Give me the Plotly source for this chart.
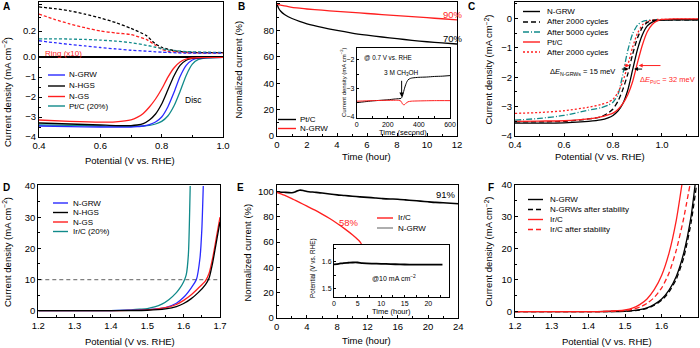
import plotly.graph_objects as go

W, H = 700, 348
FONT = "Liberation Sans, Arial, Helvetica, sans-serif"
BLUE = "#2a2aff"
BLACK = "#000000"
RED = "#ff1f1f"
TEAL = "#108a8a"
GRAY = "#8c8c8c"

# ---------------- Panel A data ----------------
a_ring_x = [0.40, 0.45, 0.50, 0.55, 0.60, 0.65, 0.70, 0.75, 0.78, 0.80, 0.82, 0.85, 0.88, 0.90, 0.95, 1.00]
a_ring_nhgs = [0.385, 0.372, 0.355, 0.33, 0.30, 0.265, 0.22, 0.165, 0.10, 0.075, 0.06, 0.045, 0.038, 0.035, 0.034, 0.033]
a_ring_ngs = [0.33, 0.29, 0.255, 0.225, 0.20, 0.185, 0.172, 0.135, 0.09, 0.06, 0.045, 0.038, 0.033, 0.032, 0.03, 0.03]
a_ring_ptc = [0.14, 0.14, 0.138, 0.135, 0.13, 0.122, 0.11, 0.09, 0.075, 0.065, 0.055, 0.048, 0.042, 0.04, 0.037, 0.035]
a_ring_ngrw = [0.125, 0.11, 0.097, 0.085, 0.073, 0.062, 0.052, 0.045, 0.04, 0.037, 0.035, 0.032, 0.03, 0.03, 0.03, 0.03]

a_disc_x = [0.40, 0.50, 0.60, 0.65, 0.70, 0.72, 0.74, 0.76, 0.78, 0.80, 0.82, 0.84, 0.86, 0.88, 0.90, 0.92, 0.95, 1.00]
a_disc_ngs = [-3.15, -3.22, -3.26, -3.24, -3.14, -3.02, -2.82, -2.5, -2.1, -1.6, -1.02, -0.55, -0.25, -0.1, -0.05, -0.03, -0.02, -0.02]
a_disc_nhgs = [-3.3, -3.35, -3.4, -3.43, -3.43, -3.4, -3.33, -3.15, -2.85, -2.35, -1.65, -0.95, -0.42, -0.16, -0.07, -0.04, -0.03, -0.02]
a_disc_ngrw = [-3.45, -3.48, -3.5, -3.5, -3.5, -3.48, -3.45, -3.38, -3.25, -3.0, -2.5, -1.78, -0.98, -0.42, -0.15, -0.06, -0.03, -0.02]
a_disc_ptc = [-3.4, -3.42, -3.45, -3.46, -3.47, -3.46, -3.45, -3.42, -3.35, -3.22, -2.95, -2.45, -1.72, -0.92, -0.36, -0.12, -0.04, -0.02]

# ---------------- Panel B data ----------------
b_t = [0, 0.1, 0.25, 0.5, 0.75, 1, 1.5, 2, 3, 4, 5, 6, 7, 8, 9, 10, 11, 12]
b_ptc = [100, 97, 94.5, 92, 90.3, 89, 86.8, 85, 82.3, 80, 78, 76.4, 75, 73.7, 72.5, 71.4, 70.5, 69.7]
b_ngrw = [100, 99.6, 99.2, 98.6, 98, 97.5, 96.8, 96.2, 95.3, 94.4, 93.6, 92.8, 92, 91.2, 90.4, 89.6, 88.8, 88]

bi_t_ptc = [0, 50, 100, 150, 200, 250, 285, 292, 300, 310, 320, 330, 345, 360, 400, 450, 500, 550, 600]
bi_ptc = [-3.5, -3.47, -3.44, -3.42, -3.4, -3.37, -3.35, -3.3, -3.15, -2.95, -2.8, -2.7, -2.65, -2.63, -2.61, -2.6, -2.58, -2.57, -2.55]
bi_t_ngrw = [0, 100, 200, 270, 285, 295, 305, 315, 330, 350, 400, 500, 600]
bi_ngrw = [-3.45, -3.43, -3.42, -3.42, -3.45, -3.55, -3.58, -3.53, -3.47, -3.45, -3.44, -3.43, -3.43]

# ---------------- Panel C data ----------------
c_x = [0.40, 0.50, 0.60, 0.70, 0.75, 0.78, 0.80, 0.82, 0.84, 0.86, 0.88, 0.90, 0.92, 0.94, 0.96, 0.98, 1.00, 1.05, 1.147]
c_ngrw = [-3.56, -3.56, -3.55, -3.5, -3.45, -3.38, -3.3, -3.15, -2.9, -2.45, -1.75, -1.05, -0.55, -0.25, -0.12, -0.07, -0.05, -0.04, -0.04]
c_ngrw_2000 = [-3.52, -3.52, -3.5, -3.42, -3.35, -3.22, -3.08, -2.82, -2.42, -1.9, -1.22, -0.66, -0.3, -0.13, -0.07, -0.05, -0.04, -0.04, -0.04]
c_ngrw_5000 = [-3.46, -3.4, -3.3, -3.12, -3.04, -2.95, -2.85, -2.6, -1.9, -1.1, -0.52, -0.22, -0.1, -0.06, -0.05, -0.04, -0.04, -0.04, -0.04]
c_ptc = [-3.5, -3.49, -3.48, -3.42, -3.35, -3.28, -3.22, -3.1, -2.9, -2.6, -2.15, -1.5, -0.9, -0.45, -0.2, -0.08, -0.03, -0.01, -0.01]
c_ptc_2000 = [-3.23, -3.2, -3.14, -3.02, -2.93, -2.85, -2.75, -2.52, -2.15, -1.6, -0.98, -0.5, -0.22, -0.1, -0.05, -0.03, -0.03, -0.02, -0.02]

# ---------------- Panel D data ----------------
d_ngrw_x = [1.2, 1.4, 1.45, 1.5, 1.55, 1.58, 1.60, 1.62, 1.635, 1.645, 1.65, 1.654]
d_ngrw_y = [0, 0.05, 0.15, 0.35, 1.0, 2.4, 4.3, 7.2, 10, 17, 26, 40]
d_nhgs_x = [1.2, 1.4, 1.45, 1.5, 1.55, 1.58, 1.6, 1.62, 1.64, 1.66, 1.67, 1.68, 1.69, 1.70]
d_nhgs_y = [0, 0.02, 0.05, 0.15, 0.6, 1.3, 2.3, 3.8, 5.8, 8.4, 10.5, 15.5, 22, 28.5]
d_ngs_x = [1.2, 1.4, 1.45, 1.5, 1.55, 1.58, 1.6, 1.62, 1.64, 1.66, 1.67, 1.68, 1.69, 1.70]
d_ngs_y = [0, 0.03, 0.1, 0.3, 1.0, 2.0, 3.3, 5.0, 7.2, 9.6, 12, 17, 23.5, 30]
d_irc_x = [1.2, 1.4, 1.45, 1.48, 1.5, 1.52, 1.54, 1.56, 1.58, 1.59, 1.60, 1.607, 1.613, 1.618]
d_irc_y = [0, 0.05, 0.25, 0.5, 0.7, 1.2, 2.1, 3.6, 5.8, 7.3, 9.3, 11.5, 18, 40]
d_ref_x = [1.2, 1.7]
d_ref_y = [10, 10]

# ---------------- Panel E data ----------------
e_t_ngrw = [0, 1, 2, 2.5, 3, 3.5, 4, 5, 6, 7, 8, 9, 10, 11, 12, 13, 14, 15, 16, 17, 18, 19, 20, 21, 22, 23, 24]
e_ngrw = [100, 99.5, 99.2, 100, 101.2, 101, 100.2, 99.6, 99, 98.2, 97.5, 97, 96.4, 95.9, 95.5, 95, 94.5, 94.2, 94, 93.5, 93, 92.5, 92, 91.5, 91.2, 90.8, 90.4]
e_t_irc = [0, 1, 2, 3, 4, 5, 6, 7, 8, 9, 10, 11, 11.2]
e_irc = [99.5, 97.2, 94.5, 91.5, 88.5, 85.5, 82.2, 78.7, 74.8, 70.5, 65.8, 60.3, 58.5]
ei_t = [0, 1, 2, 3, 4, 5, 6, 8, 10, 12, 14, 16, 18, 20, 22, 23]
ei_v = [1.590, 1.592, 1.595, 1.596, 1.597, 1.597, 1.595, 1.593, 1.592, 1.591, 1.590, 1.589, 1.589, 1.589, 1.589, 1.589]

# ---------------- Panel F data ----------------
f_irc_x = [1.2, 1.4, 1.45, 1.48, 1.5, 1.52, 1.54, 1.56, 1.58, 1.6, 1.62, 1.64, 1.655]
f_irc_y = [0, 0.02, 0.1, 0.3, 0.55, 1.1, 2.2, 4.0, 7.0, 11.5, 18.5, 29, 40]
f_irc_s_x = [1.2, 1.4, 1.45, 1.5, 1.52, 1.54, 1.56, 1.58, 1.6, 1.62, 1.64, 1.66, 1.677]
f_irc_s_y = [0, 0.02, 0.05, 0.35, 0.7, 1.4, 2.6, 4.5, 7.5, 12.2, 19.5, 29.5, 40]
f_ngrw_x = [1.2, 1.4, 1.45, 1.5, 1.52, 1.54, 1.56, 1.58, 1.6, 1.62, 1.64, 1.66, 1.68, 1.691]
f_ngrw_y = [0, 0.0, 0.03, 0.12, 0.3, 0.6, 1.2, 2.3, 4.0, 6.8, 11.2, 18.5, 30, 40]
f_ngrw_s_x = [1.2, 1.4, 1.45, 1.5, 1.52, 1.54, 1.56, 1.58, 1.6, 1.62, 1.64, 1.66, 1.68, 1.695]
f_ngrw_s_y = [0, 0, 0.02, 0.1, 0.25, 0.5, 1.0, 2.0, 3.6, 6.2, 10.3, 17, 28, 40]


def dx(p):
    return p / W


def dy(p):
    return 1 - p / H


fig = go.Figure()


def line(x, y, xa, ya, color, dash="solid", width=1.3):
    fig.add_trace(go.Scatter(x=x, y=y, xaxis=xa, yaxis=ya, mode="lines",
                             line=dict(color=color, dash=dash, width=width, shape="spline", smoothing=0.6),
                             showlegend=False, hoverinfo="skip"))


SD = "3px,2px"
# A
line(a_ring_x, a_ring_nhgs, "x", "y", BLACK, SD)
line(a_ring_x, a_ring_ngs, "x", "y", RED, SD)
line(a_ring_x, a_ring_ptc, "x", "y", TEAL, SD)
line(a_ring_x, a_ring_ngrw, "x", "y", BLUE, SD)
line(a_disc_x, a_disc_ptc, "x2", "y2", TEAL)
line(a_disc_x, a_disc_ngrw, "x2", "y2", BLUE)
line(a_disc_x, a_disc_nhgs, "x2", "y2", BLACK)
line(a_disc_x, a_disc_ngs, "x2", "y2", RED)
# B
line(b_t, b_ptc, "x3", "y3", BLACK)
line(b_t, b_ngrw, "x3", "y3", RED)
line(bi_t_ptc, bi_ptc, "x4", "y4", BLACK, width=1)
line(bi_t_ngrw, bi_ngrw, "x4", "y4", RED, width=1)
# C
line(c_x, c_ngrw_5000, "x5", "y5", TEAL, "6px,2px,1px,2px")
line(c_x, c_ptc_2000, "x5", "y5", RED, "2px,2px")
line(c_x, c_ngrw_2000, "x5", "y5", BLACK, "5px,3px")
line(c_x, c_ngrw, "x5", "y5", BLACK)
line(c_x, c_ptc, "x5", "y5", RED)
# D
fig.add_trace(go.Scatter(x=d_ref_x, y=d_ref_y, xaxis="x6", yaxis="y6", mode="lines",
                         line=dict(color="#808080", dash="4px,3px", width=1.3), showlegend=False, hoverinfo="skip"))
line(d_irc_x, d_irc_y, "x6", "y6", TEAL)
line(d_ngrw_x, d_ngrw_y, "x6", "y6", BLUE)
line(d_ngs_x, d_ngs_y, "x6", "y6", RED)
line(d_nhgs_x, d_nhgs_y, "x6", "y6", BLACK)
# E
line(e_t_ngrw, e_ngrw, "x7", "y7", BLACK, width=1.6)
line(e_t_irc, e_irc, "x7", "y7", RED)
line(ei_t, ei_v, "x8", "y8", BLACK, width=1.8)
# F
line(f_ngrw_x, f_ngrw_y, "x9", "y9", BLACK)
line(f_ngrw_s_x, f_ngrw_s_y, "x9", "y9", BLACK, "5px,3px")
line(f_irc_s_x, f_irc_s_y, "x9", "y9", RED, "5px,3px")
line(f_irc_x, f_irc_y, "x9", "y9", RED)


def _axis(dom, rng, anchor, fs, kw):
    d = dict(domain=dom, range=rng, anchor=anchor, showline=True, linecolor="black",
             linewidth=1, mirror=True, ticks="inside", ticklen=3, tickwidth=1, tickcolor="black",
             showgrid=False, zeroline=False, fixedrange=True, automargin=False,
             tickfont=dict(family=FONT, size=fs, color="black"))
    d.update(kw)
    return d


def ax(x0, x1, rng, anchor, fs=9.5, **kw):
    return _axis([dx(x0), dx(x1)], rng, anchor, fs, kw)


def ay(top, bottom, rng, anchor, fs=9.5, **kw):
    return _axis([dy(bottom), dy(top)], rng, anchor, fs, kw)


MIN = lambda dt: dict(ticks="inside", ticklen=2, tickcolor="black", dtick=dt, showgrid=False)

layout = dict(
    template="none",
    width=W, height=H, margin=dict(l=0, r=0, t=0, b=0, pad=0),
    paper_bgcolor="white", plot_bgcolor="white", showlegend=False,
    font=dict(family=FONT, color="black"),
    # A ring
    xaxis=ax(39, 223, [0.4, 1.0], "y", showticklabels=False, ticks=""),
    yaxis=ay(2, 57, [0, 0.423], "x", tickvals=[0, 0.2, 0.4], ticktext=["0.0", "0.2", "0.4"],
             minor=MIN(0.1)),
    # A disc
    xaxis2=ax(39, 223, [0.4, 1.0], "y2", tickvals=[0.4, 0.6, 0.8, 1.0], ticktext=["0.4", "0.6", "0.8", "1.0"],
              minor=MIN(0.1)),
    yaxis2=ay(57, 137, [-4, 0], "x2", tickvals=[-4, -3, -2, -1], minor=MIN(0.5)),
    # B
    xaxis3=ax(277, 457, [0, 12], "y3", dtick=2, tick0=0, minor=MIN(1)),
    yaxis3=ay(2, 136, [0, 101.5], "x3", dtick=20, tick0=0, minor=MIN(10)),
    xaxis4=ax(356.7, 450, [0, 600], "y4", fs=7, dtick=200, tick0=0, ticklen=2, minor=MIN(100)),
    yaxis4=ay(48.3, 117.7, [-4.03, -1.59], "x4", fs=7, dtick=1, tick0=-4, ticklen=2, minor=MIN(0.5)),
    # C
    xaxis5=ax(515, 698, [0.4, 1.147], "y5", tickvals=[0.4, 0.6, 0.8, 1.0], ticktext=["0.4", "0.6", "0.8", "1.0"],
              minor=MIN(0.1)),
    yaxis5=ay(2, 136, [-4, 0.565], "x5", dtick=1, tick0=0, minor=MIN(0.5)),
    # D
    xaxis6=ax(38.3, 220, [1.2, 1.7], "y6", tickvals=[1.2, 1.3, 1.4, 1.5, 1.6, 1.7],
              ticktext=["1.2", "1.3", "1.4", "1.5", "1.6", "1.7"], minor=MIN(0.05)),
    yaxis6=ay(185, 316.7, [-1.92, 40.32], "x6", dtick=10, tick0=0, minor=MIN(5)),
    # E
    xaxis7=ax(276.7, 458.3, [0, 24], "y7", dtick=4, tick0=0, minor=MIN(2)),
    yaxis7=ay(185, 317.7, [0, 105.3], "x7", dtick=20, tick0=0, minor=MIN(10)),
    xaxis8=ax(334, 449.3, [0, 24.45], "y8", fs=7, dtick=5, tick0=0, ticklen=2, minor=MIN(2.5)),
    yaxis8=ay(245, 296.7, [1.469, 1.6625], "x8", fs=7, tickvals=[1.5, 1.6], ticktext=["1.5", "1.6"],
              ticklen=2, minor=MIN(0.05)),
    # F
    xaxis9=ax(515, 698, [1.2, 1.699], "y9", tickvals=[1.2, 1.3, 1.4, 1.5, 1.6],
              ticktext=["1.2", "1.3", "1.4", "1.5", "1.6"], minor=MIN(0.05)),
    yaxis9=ay(185, 317, [-1.7, 40], "x9", dtick=10, tick0=0, minor=MIN(5)),
)
fig.update_layout(**layout)

ann = []
shapes = []


def text(x, y, s, size=9.5, color="black", xanchor="center", yanchor="middle", angle=0):
    ann.append(dict(x=dx(x), y=dy(y), xref="paper", yref="paper", text=s, showarrow=False,
                    xanchor=xanchor, yanchor=yanchor, textangle=angle,
                    font=dict(family=FONT, size=size, color=color)))


def leg(x0, x1, y, color, dash, label, tx, size=8, width=1.4):
    shapes.append(dict(type="line", xref="paper", yref="paper", x0=dx(x0), x1=dx(x1), y0=dy(y), y1=dy(y),
                       line=dict(color=color, width=width, dash=dash)))
    text(tx, y, label, size=size, xanchor="left")


CD = "Current density (mA cm<sup>−2</sup>)"
POT = "Potential (V vs. RHE)"

# panel letters
for lab, x, y in [("A", 1, 6), ("B", 236, 6), ("C", 466, 6), ("D", 1, 187), ("E", 235, 187), ("F", 486, 187)]:
    text(x, y, "<b>%s</b>" % lab, size=10, xanchor="left")

# axis titles
text(130, 160, POT)
text(7, 92, CD, angle=-90)
text(367, 157, "Time (hour)")
text(237.5, 70, "Normalized current (%)", angle=-90)
text(600, 157, POT)
text(488.5, 70, CD, angle=-90)
text(130, 341, POT)
text(7, 252, CD, angle=-90)
text(367, 340, "Time (hour)")
text(246.5, 253, "Normalized current (%)", angle=-90)
text(606.5, 341, POT)
text(488.5, 252, CD, angle=-90)

# inset titles
text(403, 132, "Time (second)", size=7.5)
text(343, 83, CD, size=6, angle=-90)
text(391.5, 311.5, "Time (hour)", size=7.5)
text(313, 268, POT, size=6.3, angle=-90)

# A texts / legend
text(43, 53, "Ring (x10)", size=8, color=RED, xanchor="left")
text(183, 100, "Disc", size=8.5, xanchor="left")
leg(48, 65, 75, BLUE, "solid", "N-GRW", 67)
leg(48, 65, 86, BLACK, "solid", "N-HGS", 67)
leg(48, 65, 96.5, RED, "solid", "N-GS", 67)
leg(48, 65, 106, TEAL, "solid", "Pt/C (20%)", 67)

# B texts / legend
text(441, 14, "90%", size=9.5, color=RED, xanchor="left")
text(441, 39, "70%", size=9.5, xanchor="left")
leg(278, 296, 119.5, BLACK, "solid", "Pt/C", 298)
leg(278, 296, 128.5, RED, "solid", "N-GRW", 298)
text(362, 57.5, "@ 0.7 V vs. RHE", size=6.3, xanchor="left")
text(401, 72.5, "3 M CH<sub>3</sub>OH", size=6.5)
ann.append(dict(x=289, y=-3.3, xref="x4", yref="y4", ax=289, ay=-2.68, axref="x4", ayref="y4",
                showarrow=True, arrowhead=2, arrowsize=0.9, arrowwidth=1, arrowcolor="black", text=""))

# C legend / annotations
leg(523, 540, 11.5, BLACK, "solid", "N-GRW", 545)
leg(523, 540, 22, BLACK, "5px,3px", "After 2000 cycles", 545)
leg(523, 540, 32, TEAL, "6px,2px,1px,2px", "After 5000 cycles", 545)
leg(523, 540, 42, RED, "solid", "Pt/C", 545)
leg(523, 540, 52, RED, "2px,2px", "After 2000 cycles", 545)
text(617, 71.5, "Δ<i>E</i><sub>N-GRWs</sub> = 15 meV", size=7.5, xanchor="right")
text(697, 80, "Δ<i>E</i><sub>Pt/C</sub> = 32 meV", size=7.5, color=RED, xanchor="right")
for (x_tail, x_head, yv, col) in [(0.83, 0.863, -1.72, BLACK), (0.925, 0.886, -1.72, BLACK),
                                  (0.84, 0.867, -1.6, RED), (1.0, 0.905, -1.6, RED)]:
    ann.append(dict(x=x_head, y=yv, xref="x5", yref="y5", ax=x_tail, ay=yv, axref="x5", ayref="y5",
                    showarrow=True, arrowhead=2, arrowsize=0.8, arrowwidth=1, arrowcolor=col, text=""))

# D legend
leg(53, 68, 203, BLUE, "solid", "N-GRW", 71)
leg(53, 68, 212.5, BLACK, "solid", "N-HGS", 71)
leg(53, 68, 222, RED, "solid", "N-GS", 71)
leg(53, 68, 231.5, TEAL, "solid", "Ir/C (20%)", 71)

# E legend / texts
text(434, 195, "91%", size=9.5, xanchor="left")
text(337, 222, "58%", size=9.5, color=RED, xanchor="left")
leg(377, 393, 218, RED, "solid", "Ir/C", 396)
leg(377, 393, 228, GRAY, "solid", "N-GRW", 396)
text(370, 278, "@10 mA cm<sup>−2</sup>", size=7, xanchor="left")

# F legend
leg(528, 543, 199.5, BLACK, "solid", "N-GRW", 548)
leg(528, 543, 209.5, BLACK, "5px,3px", "N-GRWs after stability", 548)
leg(528, 543, 219.5, RED, "solid", "Ir/C", 548)
leg(528, 543, 229.5, RED, "5px,3px", "Ir/C after stability", 548)

fig.update_layout(annotations=ann, shapes=shapes)
fig.write_html("out.html", config={"displayModeBar": False, "staticPlot": True},
               post_script="document.body.style.margin='0';document.body.style.padding='0';"
                           "document.body.style.overflow='hidden';")
